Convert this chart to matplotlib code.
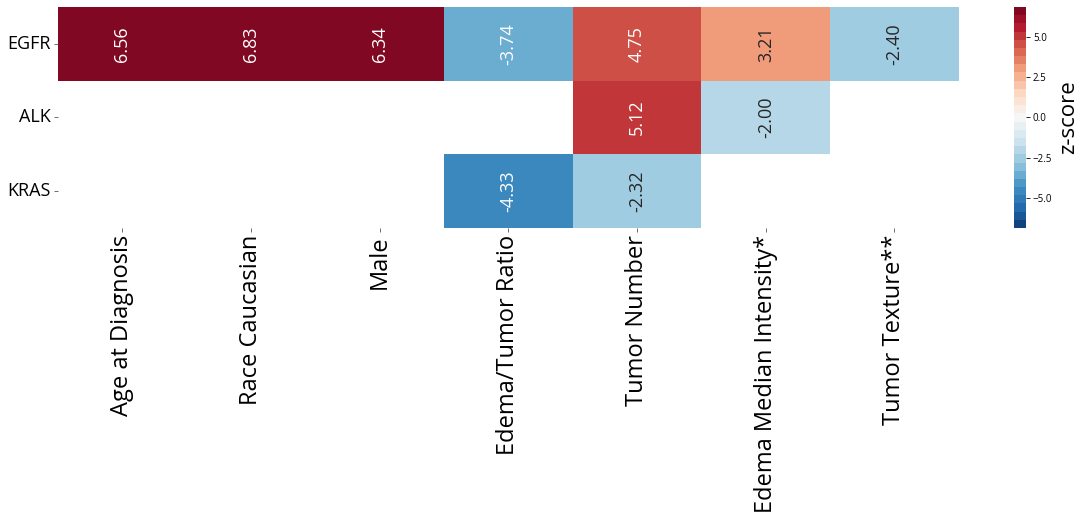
import numpy as np
import pandas as pd
import seaborn as sns
import matplotlib.pyplot as plt
from matplotlib.colors import ListedColormap

genes = ['EGFR', 'ALK', 'KRAS']
features = ['Age at Diagnosis', 'Race Caucasian', 'Male', 'Edema/Tumor Ratio',
            'Tumor Number', 'Edema Median Intensity*', 'Tumor Texture**']

egfr = [6.56, 6.83, 6.34, -3.74, 4.75, 3.21, -2.40]
alk = [np.nan, np.nan, np.nan, np.nan, 5.12, -2.00, np.nan]
kras = [np.nan, np.nan, np.nan, -4.33, -2.32, np.nan, np.nan]

df = pd.DataFrame([egfr, alk, kras], index=genes, columns=features)
vlim = np.nanmax(np.abs(df.values))

plt.rcParams['font.family'] = ['Open Sans', 'DejaVu Sans']

# stepped RdBu_r palette (seaborn style sampling, no endpoints)
cmap = ListedColormap(sns.color_palette('RdBu_r', 27))

fig = plt.figure(figsize=(10.84, 5.17), dpi=100)
ax = fig.add_axes([0.0535, 0.559, 0.831, 0.4275])
cax = fig.add_axes([0.935, 0.559, 0.0115, 0.4275])

sns.heatmap(df, ax=ax, cbar_ax=cax, cmap=cmap, vmin=-vlim, vmax=vlim,
            annot=True, fmt='.2f', annot_kws={'rotation': 90, 'fontsize': 13})

ax.set_xticklabels(features, rotation=90, fontsize=17)
ax.set_yticklabels(genes, rotation=0, fontsize=13)
ax.tick_params(axis='both', length=3, width=0.6, color='#555555', pad=2)

cb = ax.collections[0].colorbar
cb.set_ticks([-5.0, -2.5, 0.0, 2.5, 5.0])
cb.ax.tick_params(labelsize=7, length=3, width=0.6, pad=2)
cb.outline.set_visible(False)
cb.set_label('z-score', fontsize=16, labelpad=4)

fig.savefig('out.png', dpi=100)
